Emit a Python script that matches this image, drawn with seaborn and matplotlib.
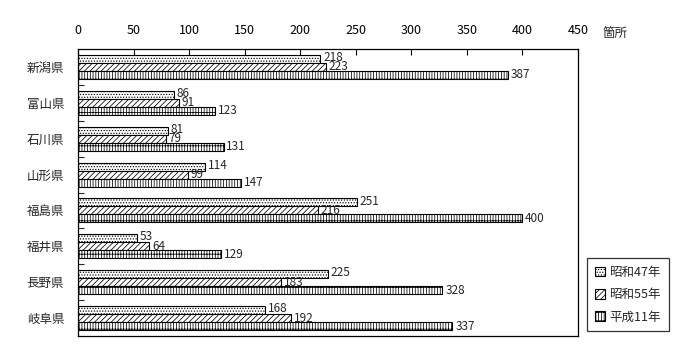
import pandas as pd
import matplotlib
matplotlib.use("Agg")
import matplotlib.pyplot as plt
import seaborn as sns
from matplotlib.patches import Patch

prefectures = ["新潟県", "富山県", "石川県", "山形県", "福島県", "福井県", "長野県", "岐阜県"]
years = ["昭和47年", "昭和55年", "平成11年"]
s47 = [218, 86, 81, 114, 251, 53, 225, 168]
s55 = [223, 91, 79, 99, 216, 64, 183, 192]
h11 = [387, 123, 131, 147, 400, 129, 328, 337]
hatches = ["......", "//////", "||||++"]

sns.set_style("white")
plt.rcParams["font.family"] = ["Noto Sans CJK JP", "DejaVu Sans"]
plt.rcParams["hatch.linewidth"] = 0.55

df = pd.DataFrame({
    "県": prefectures * 3,
    "年": [y for y in years for _ in prefectures],
    "箇所": s47 + s55 + h11,
})

fig = plt.figure(figsize=(7, 3.6), dpi=100)
ax = fig.add_axes([78 / 700, 1 - 336 / 360, 500 / 700, 287 / 360])

sns.barplot(data=df, x="箇所", y="県", hue="年", hue_order=years, order=prefectures,
            orient="h", palette=["white"] * 3, edgecolor="black", linewidth=0.8,
            width=0.67, legend=False, ax=ax)

# first label of each group sits a touch above its bar
lifts = [1.0, 0.0, 0.0]
for cont, h, lift in zip(ax.containers, hatches, lifts):
    for p in cont.patches:
        p.set_hatch(h)
    for t in ax.bar_label(cont, padding=2, fontsize=8.5):
        t.xyann = (2, lift)

ax.set_xlim(0, 450)
ax.set_ylim(7.5, -0.5)
ax.set_xticks(range(0, 451, 50))
ax.xaxis.tick_top()
ax.tick_params(axis="x", direction="in", length=4, width=0.8, pad=9, labelsize=9, colors="black")
ax.set_yticks(range(len(prefectures)))
ax.set_yticks([i + 0.5 for i in range(len(prefectures) - 1)], minor=True)
ax.tick_params(axis="y", which="major", length=0, pad=10, labelsize=9)
ax.tick_params(axis="y", which="minor", direction="in", length=4, width=0.8, left=True)
ax.set_xlabel("")
ax.set_ylabel("")
for s in ax.spines.values():
    s.set_visible(True)
    s.set_color("black")
    s.set_linewidth(0.9)

fig.text(603 / 700, 1 - 33 / 360, "箇所", fontsize=9, va="center", ha="left")

handles = [Patch(facecolor="white", edgecolor="black", hatch=h, linewidth=0.8) for h in hatches]
leg = fig.legend(handles, years, loc="lower left", bbox_to_anchor=(587 / 700, 1 - 331 / 360),
                 frameon=True, fancybox=False, edgecolor="black", fontsize=9,
                 handlelength=0.8, handleheight=0.8, handletextpad=0.4,
                 labelspacing=0.75, borderpad=0.6, borderaxespad=0)
leg.get_frame().set_linewidth(0.9)

fig.savefig("out.png", dpi=100)
